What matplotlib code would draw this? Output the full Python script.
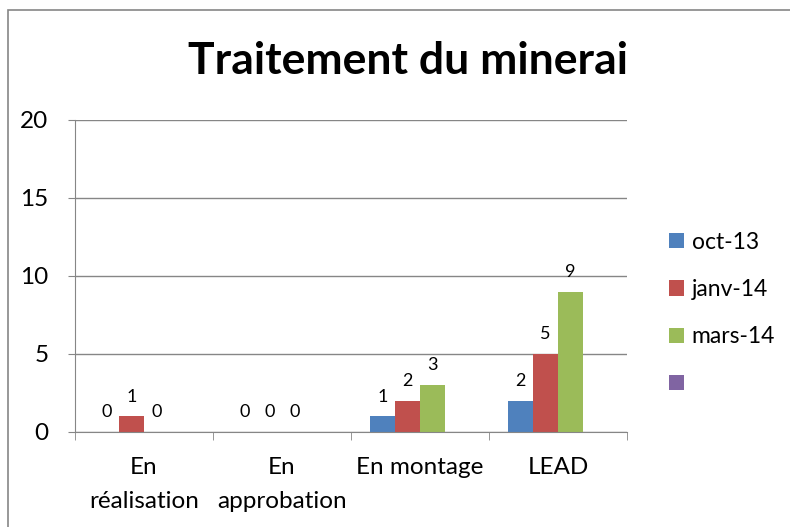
import matplotlib
matplotlib.use("Agg")
import matplotlib.pyplot as plt
from matplotlib.patches import Rectangle
import numpy as np

categories = ["En\nréalisation", "En\napprobation", "En montage", "LEAD"]
series_names = ["oct-13", "janv-14", "mars-14", ""]
oct13 = [0, 0, 1, 2]
janv14 = [1, 0, 2, 5]
mars14 = [0, 0, 3, 9]
empty = [np.nan, np.nan, np.nan, np.nan]
yticks = [0, 5, 10, 15, 20]

colors = ["#4F81BD", "#C0504D", "#9BBB59", "#8064A2"]
values = [oct13, janv14, mars14, empty]

plt.rcParams['font.family'] = ['Lato', 'DejaVu Sans']

fig = plt.figure(figsize=(7.9, 5.27), dpi=100)
fig.patches.append(Rectangle((8/790, -0.1), 1.2, 1 - 10/527 + 0.1, transform=fig.transFigure,
                             fill=False, edgecolor="#868686", linewidth=1.2))
ax = fig.add_axes([75/790, 1 - 432/527, 552/790, 312/527])

n = len(categories)
x = np.arange(n)
w = 0.18
for i, (vals, c, name) in enumerate(zip(values, colors, series_names)):
    pos = x + (i - 1.5) * w
    ax.bar(pos, vals, width=w, color=c, label=name if name else "x")
    if name:
        for p, v in zip(pos, vals):
            if not np.isnan(v):
                ax.text(p, v + 0.75, f"{v:g}", ha="center", va="bottom", fontsize=13)

ax.set_xlim(-0.5, n - 0.5)
ax.set_ylim(0, 20)
ax.set_yticks(yticks)
ax.set_yticklabels([str(t) for t in yticks], fontsize=17.5)
ax.yaxis.grid(True, color="#868686", linewidth=1)
ax.set_axisbelow(True)
ax.set_xticks(x)
ax.set_xticklabels(categories, fontsize=17.5, linespacing=1.75)
ax.tick_params(axis="x", length=0, pad=18)
ax.set_xticks(np.arange(-0.5, n, 1), minor=True)
ax.tick_params(axis="x", which="minor", length=6, color="#868686", direction="out")
ax.tick_params(axis="y", length=5, color="#868686", direction="out", pad=14)
for s in ["top", "right"]:
    ax.spines[s].set_visible(False)
for s in ["left", "bottom"]:
    ax.spines[s].set_color("#868686")

fig.text(408/790, 1 - 61/527, "Traitement du minerai", ha="center", va="center",
         fontsize=32, fontweight="bold")

leg = fig.legend(loc="upper left", bbox_to_anchor=(648/790, 1 - 211/527), frameon=False,
                 fontsize=16.5, handlelength=0.65, handleheight=0.65, labelspacing=1.15,
                 handletextpad=0.35)
leg.get_texts()[3].set_alpha(0)

fig.savefig("out.png", dpi=100)
